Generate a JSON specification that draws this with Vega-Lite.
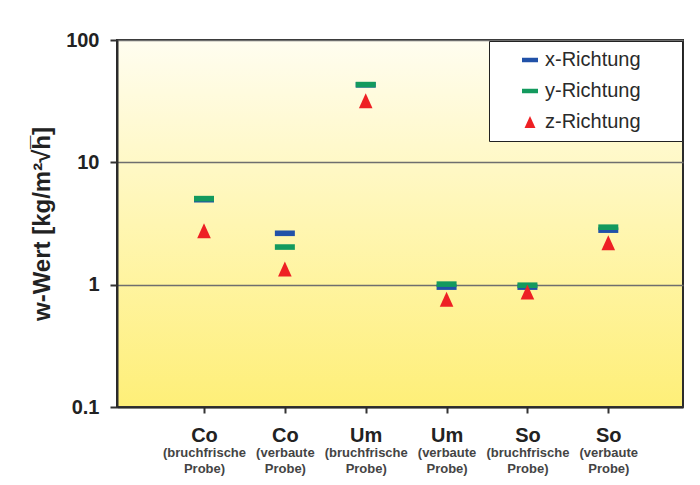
{
  "$schema": "https://vega.github.io/schema/vega-lite/v6.json",
  "width": 566,
  "height": 367,
  "autosize": {"type": "none"},
  "padding": {"left": 117, "top": 40, "right": 17, "bottom": 78},
  "background": "#ffffff",
  "config": {
    "font": "Liberation Sans",
    "view": {
      "stroke": "#2b2b2b",
      "strokeWidth": 2,
      "fill": {
        "gradient": "linear",
        "x1": 0, "y1": 0, "x2": 0, "y2": 1,
        "stops": [
          {"offset": 0, "color": "#fffdf0"},
          {"offset": 0.5, "color": "#fff6b2"},
          {"offset": 1, "color": "#feef78"}
        ]
      }
    }
  },
  "data": {
    "values": [
      {"cat": "Co|(bruchfrische|Probe)", "series": "x-Richtung", "w": 4.95},
      {"cat": "Co|(verbaute|Probe)", "series": "x-Richtung", "w": 2.63},
      {"cat": "Um|(bruchfrische|Probe)", "series": "x-Richtung", "w": 43},
      {"cat": "Um|(verbaute|Probe)", "series": "x-Richtung", "w": 0.955},
      {"cat": "So|(bruchfrische|Probe)", "series": "x-Richtung", "w": 0.955},
      {"cat": "So|(verbaute|Probe)", "series": "x-Richtung", "w": 2.79},
      {"cat": "Co|(bruchfrische|Probe)", "series": "y-Richtung", "w": 5.05},
      {"cat": "Co|(verbaute|Probe)", "series": "y-Richtung", "w": 2.03},
      {"cat": "Um|(bruchfrische|Probe)", "series": "y-Richtung", "w": 43.2},
      {"cat": "Um|(verbaute|Probe)", "series": "y-Richtung", "w": 1.01},
      {"cat": "So|(bruchfrische|Probe)", "series": "y-Richtung", "w": 0.99},
      {"cat": "So|(verbaute|Probe)", "series": "y-Richtung", "w": 2.95},
      {"cat": "Co|(bruchfrische|Probe)", "series": "z-Richtung", "w": 2.76},
      {"cat": "Co|(verbaute|Probe)", "series": "z-Richtung", "w": 1.34},
      {"cat": "Um|(bruchfrische|Probe)", "series": "z-Richtung", "w": 31.9},
      {"cat": "Um|(verbaute|Probe)", "series": "z-Richtung", "w": 0.76},
      {"cat": "So|(bruchfrische|Probe)", "series": "z-Richtung", "w": 0.87},
      {"cat": "So|(verbaute|Probe)", "series": "z-Richtung", "w": 2.2}
    ]
  },
  "resolve": {"axis": {"x": "independent"}},
  "layer": [
    {
      "mark": {"type": "point", "filled": true, "opacity": 1, "size": 400, "strokeWidth": 0},
      "encoding": {
        "x": {
          "field": "cat", "type": "nominal", "sort": null,
          "scale": {"type": "point", "padding": 1.0155, "align": 0.538},
          "axis": {
            "orient": "bottom",
            "title": null,
            "labelExpr": "split(datum.value, '|')[0]",
            "labelAngle": 0,
            "labelFontSize": 20,
            "labelFontWeight": "bold",
            "labelColor": "#222222",
            "labelPadding": 12,
            "tickSize": 6,
            "tickWidth": 2,
            "tickColor": "#333333",
            "domainColor": "#2b2b2b",
            "domainWidth": 2,
            "grid": false
          }
        },
        "y": {
          "field": "w", "type": "quantitative",
          "scale": {"type": "log", "domain": [0.1, 100]},
          "axis": {
            "title": "w-Wert [kg/m²√h̅]",
            "titleFontSize": 24,
            "titleFontWeight": "bold",
            "titleColor": "#222222",
            "titlePadding": 11,
            "values": [0.1, 1, 10, 100],
            "format": "~g",
            "labelFontSize": 20,
            "labelFontWeight": "bold",
            "labelColor": "#222222",
            "labelPadding": 11,
            "labelFlush": false,
            "labelOverlap": false,
            "tickSize": 7,
            "tickWidth": 2,
            "tickColor": "#333333",
            "domainColor": "#2b2b2b",
            "domainWidth": 2,
            "grid": true,
            "gridColor": "#6e6e6e",
            "gridWidth": 1.5
          }
        },
        "color": {
          "field": "series", "type": "nominal",
          "scale": {"domain": ["x-Richtung", "y-Richtung", "z-Richtung"], "range": ["#2151a8", "#139a5e", "#ee2024"]},
          "legend": {
            "title": null,
            "orient": "top-right",
            "offset": 1,
            "fillColor": "#ffffff",
            "strokeColor": "#222222",
            "padding": 9,
            "symbolOffset": 22,
            "rowPadding": 11,
            "labelFontSize": 20,
            "labelColor": "#2a2a2a",
            "labelOffset": 5,
            "symbolSize": 256,
            "labelExpr": "datum.label + '\u00a0\u00a0\u00a0\u2800'",
            "encode": {"legend": {"update": {"strokeWidth": {"value": 2}}}}
          }
        },
        "shape": {
          "field": "series", "type": "nominal",
          "scale": {"domain": ["x-Richtung", "y-Richtung", "z-Richtung"], "range": ["M-1,-0.28L1,-0.28L1,0.28L-1,0.28Z", "M-1,-0.28L1,-0.28L1,0.28L-1,0.28Z", "M0,-0.75L-0.68,0.75L0.68,0.75Z"]},
          "legend": {
            "title": null,
            "orient": "top-right",
            "offset": 1,
            "fillColor": "#ffffff",
            "strokeColor": "#222222",
            "padding": 9,
            "symbolOffset": 22,
            "rowPadding": 11,
            "labelFontSize": 20,
            "labelColor": "#2a2a2a",
            "labelOffset": 5,
            "symbolSize": 256,
            "labelExpr": "datum.label + '\u00a0\u00a0\u00a0\u2800'",
            "encode": {"legend": {"update": {"strokeWidth": {"value": 2}}}}
          }
        }
      }
    },
    {
      "mark": {"type": "point", "opacity": 0},
      "encoding": {
        "x": {
          "field": "cat", "type": "nominal", "sort": null,
          "axis": {
            "orient": "bottom",
            "title": null,
            "labelExpr": "[split(datum.value, '|')[1], split(datum.value, '|')[2]]",
            "labelAngle": 0,
            "labelFontSize": 13,
            "labelFontWeight": "bold",
            "labelColor": "#444444",
            "labelLineHeight": 16,
            "labelPadding": 39,
            "ticks": false,
            "tickSize": 0,
            "domain": false,
            "grid": false
          }
        }
      }
    }
  ]
}
